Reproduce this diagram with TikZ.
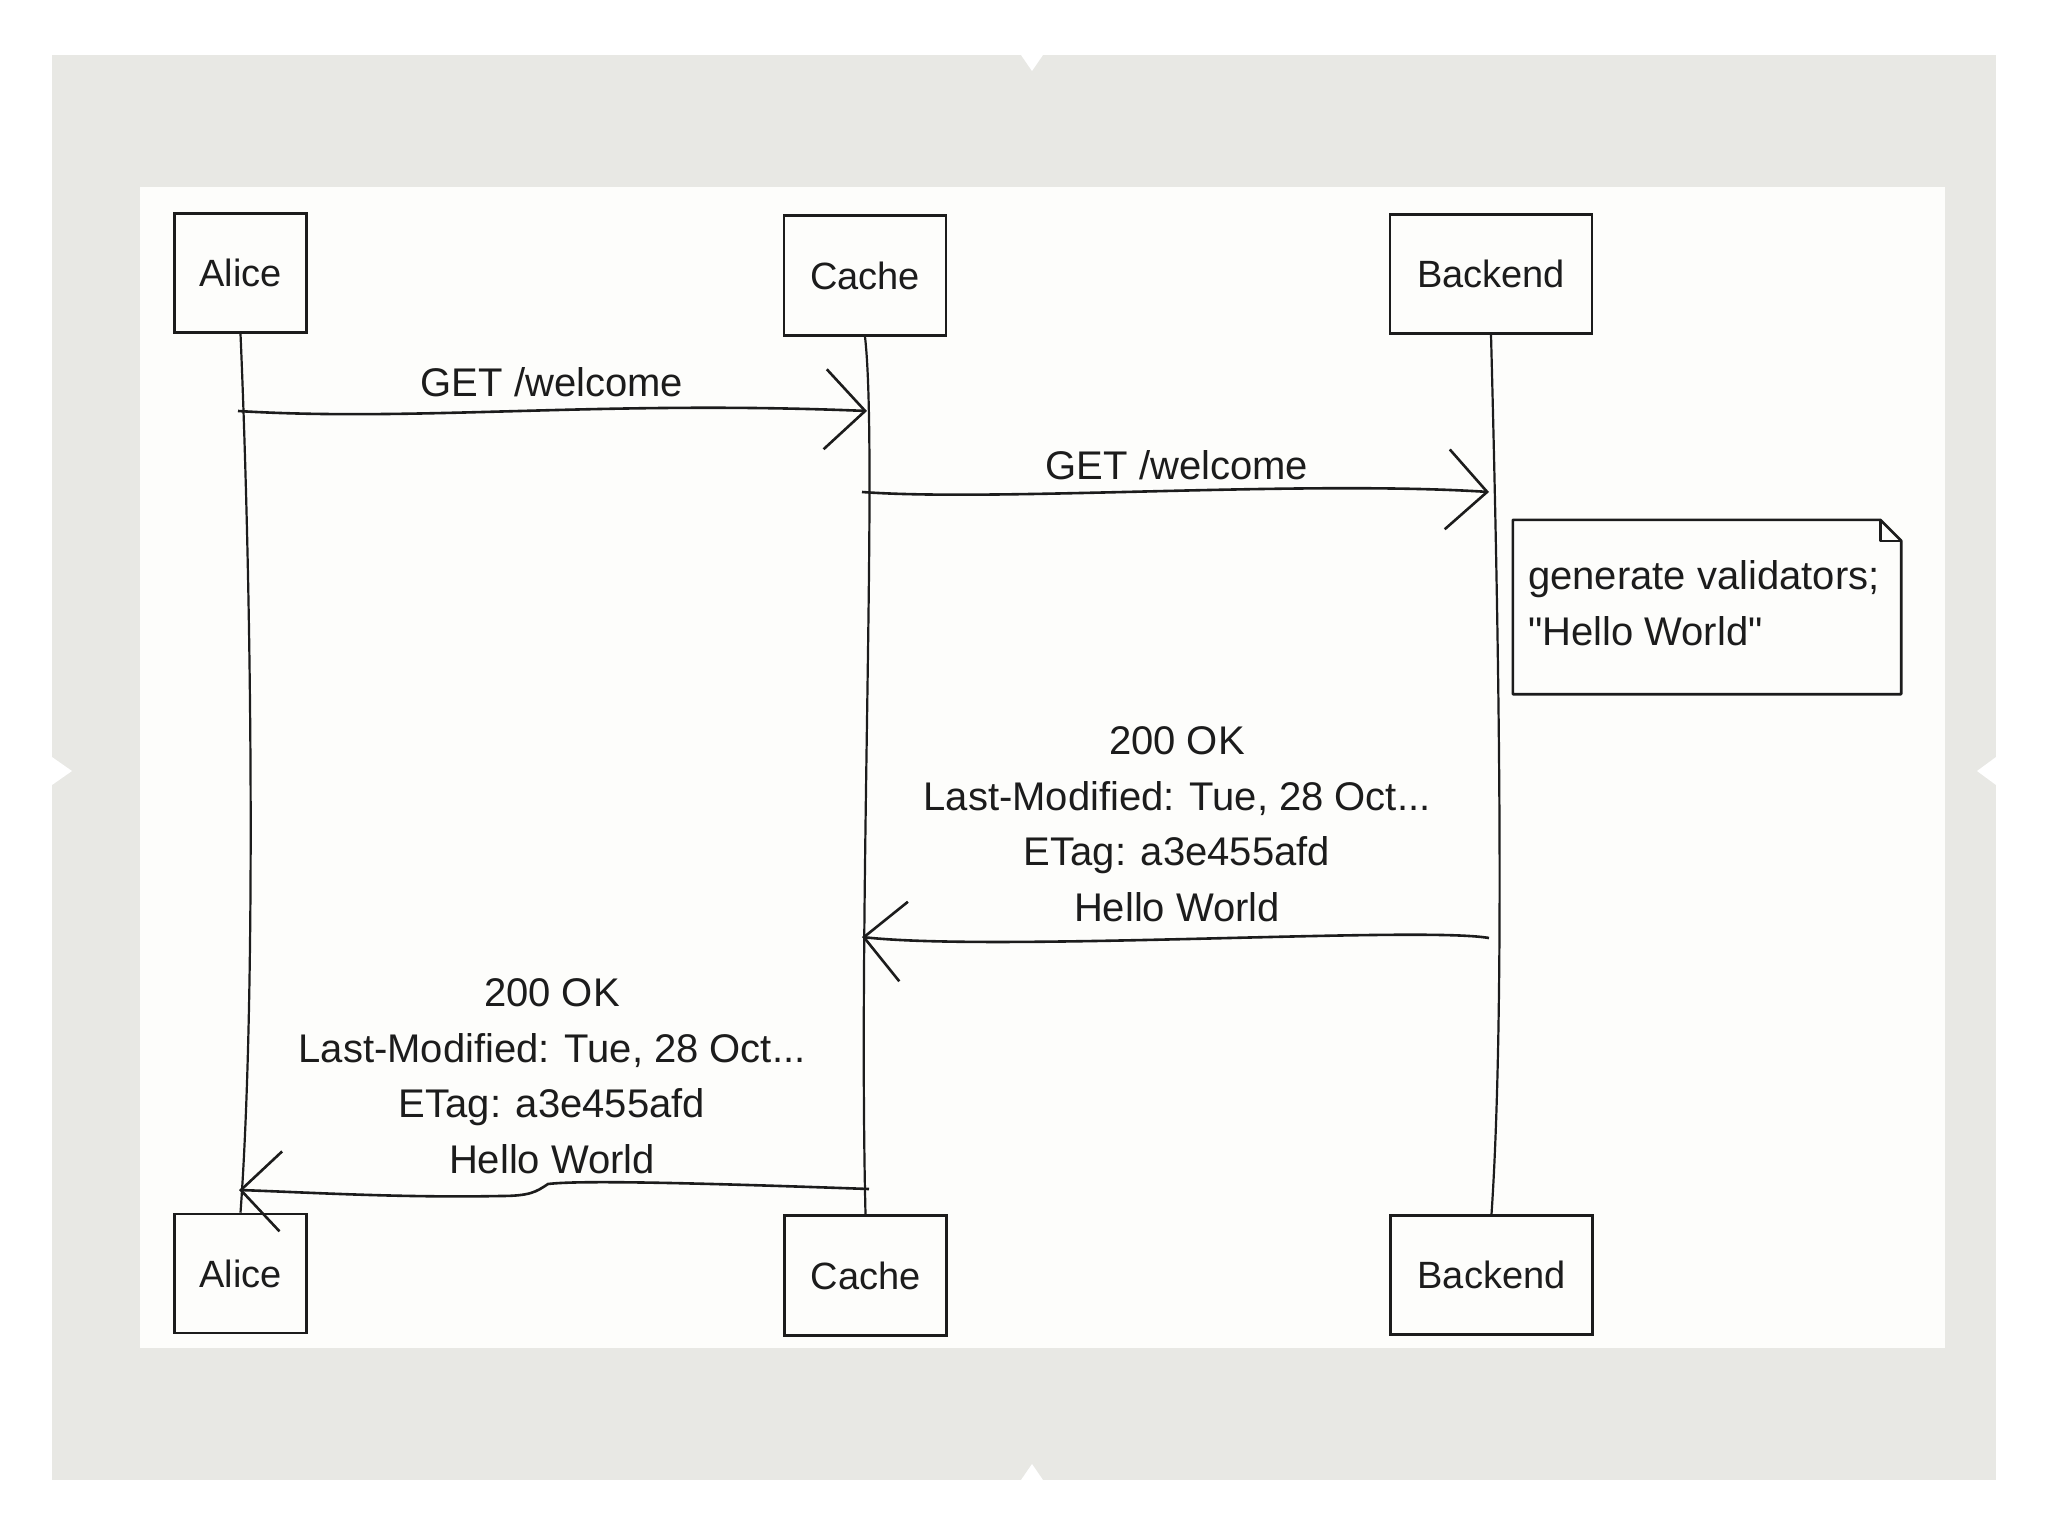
\documentclass[tikz,border=0pt]{standalone}
\usepackage{fontspec}
\setmainfont{Liberation Sans}[Ligatures=TeXOff]
\usetikzlibrary{arrows.meta,calc}
\definecolor{framegray}{HTML}{E8E8E4}
\definecolor{paper}{HTML}{FDFDFB}
\definecolor{ink}{HTML}{1C1C1C}
\tikzset{
  actor/.style={draw=ink, line width=2.6pt, fill=paper, text=ink, inner sep=0pt,
    font=\fontsize{38}{46}\selectfont},
  alicebox/.style={actor, minimum width=132pt, minimum height=119pt},
  cachebox/.style={actor, minimum width=162pt, minimum height=120pt},
  backbox/.style={actor, minimum width=202pt, minimum height=119pt},
  life/.style={draw=ink, line width=2.2pt},
  msg/.style={draw=ink, line width=2.6pt, -{Straight Barb[length=40pt,width=80pt]}},
  lbl/.style={font=\fontsize{40}{55.5}\selectfont, text=ink, align=center, inner sep=0pt},
  notebox/.style={draw=ink, line width=2.6pt, fill=paper, line join=round}
}
\begin{document}
\begin{tikzpicture}[x=1pt,y=-1pt]
\useasboundingbox (0,0) rectangle (2048,1536);
\fill[white] (0,0) rectangle (2048,1536);
\fill[framegray] (52,55) rectangle (1996,1480);
% small notches in the frame
\fill[white] (1021,55) -- (1032,71) -- (1043,55) -- cycle;
\fill[white] (1021,1480) -- (1032,1464) -- (1043,1480) -- cycle;
\fill[white] (52,757) -- (72,771) -- (52,785) -- cycle;
\fill[white] (1996,757) -- (1977,771) -- (1996,785) -- cycle;
\fill[paper] (140,187) rectangle (1945,1348);

% actors
\node[alicebox] (aliceT) at (240.5,273) {Alice};
\node[cachebox] (cacheT) at (865,275.5) {Cache};
\node[backbox]  (backT)  at (1491,274) {Backend};
\node[alicebox] (aliceB) at (240.5,1273.5) {Alice};
\node[cachebox] (cacheB) at (865.5,1275.5) {Cache};
\node[backbox]  (backB)  at (1491.5,1275) {Backend};

% lifelines
\draw[life] (aliceT.south) .. controls (252,600) and (256,1000) .. (aliceB.north);
\draw[life] (cacheT.south) .. controls (878,450) and (858,900) .. (cacheB.north);
\draw[life] (backT.south) .. controls (1498,600) and (1506,1000) .. (backB.north);

% message end points
\coordinate (m1s) at (238,411);
\coordinate (m1e) at (867,411);
\coordinate (m2s) at (862,492);
\coordinate (m2e) at (1489,492);
\coordinate (m3s) at (1489,938);
\coordinate (m3e) at (862,937);
\coordinate (m4s) at (869,1189);
\coordinate (m4e) at (239,1190);

\draw[msg] (m1s) .. controls (420,422) and (600,400) .. (m1e);
\node[lbl, anchor=base] (l1) at (552,396) {GET /welcome};

\draw[msg] (m2s) .. controls (1000,502) and (1300,480) .. (m2e);
\node[lbl, anchor=base] (l2) at (1177,479) {GET /welcome};

% note
\node[minimum width=388pt, minimum height=174pt, inner sep=0pt] (note) at (1707,607) {};
\draw[notebox] (note.north west) -- ([xshift=-21pt]note.north east)
  -- ([yshift=-21pt]note.north east) -- (note.south east) -- (note.south west) -- cycle;
\draw[notebox, fill=none] ([xshift=-21pt]note.north east) -- ([xshift=-21pt,yshift=-21pt]note.north east)
  -- ([yshift=-21pt]note.north east);
\node[lbl, align=left, anchor=west] (notetxt) at (1528,603) {generate validators;\\"Hello World"};

\draw[msg] (m3s) .. controls (1420,926) and (1000,952) .. (m3e);
\node[lbl] (l3) at (1177,824) {200 OK\\Last-Modified: Tue, 28 Oct...\\ETag: a3e455afd\\Hello World};

\draw[msg] (m4s) .. controls (700,1183) and (580,1180) .. (548,1184)
  .. controls (536,1192) and (530,1196) .. (500,1196)
  .. controls (400,1198) and (300,1192) .. (m4e);
\node[lbl] (l4) at (552,1076) {200 OK\\Last-Modified: Tue, 28 Oct...\\ETag: a3e455afd\\Hello World};
\end{tikzpicture}
\end{document}
